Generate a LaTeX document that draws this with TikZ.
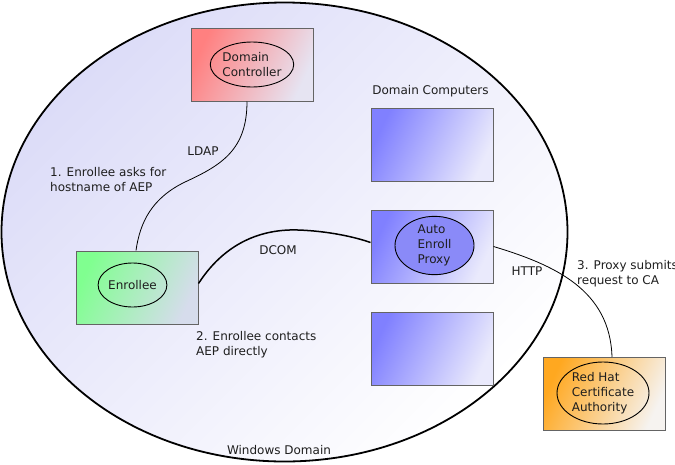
\documentclass[tikz,border=0pt]{standalone}
\usepackage{fontspec}
\setmainfont{DejaVu Sans}
\usetikzlibrary{shapes.geometric}
\definecolor{lav}{RGB}{220,220,248}
\definecolor{dcred}{RGB}{255,128,128}
\definecolor{dcpale}{RGB}{230,228,242}
\definecolor{engreen}{RGB}{128,255,144}
\definecolor{enpale}{RGB}{214,220,236}
\definecolor{pcblue}{RGB}{128,128,255}
\definecolor{pcpale}{RGB}{234,234,252}
\definecolor{aepfill}{RGB}{138,138,248}
\definecolor{caorange}{RGB}{255,168,32}
\definecolor{capale}{RGB}{246,243,240}
\definecolor{boxline}{RGB}{100,100,100}
\definecolor{txt}{RGB}{30,30,30}
\begin{document}
\begin{tikzpicture}[x=1pt,y=-1pt,
  every node/.style={font=\fontsize{12}{15}\selectfont, text=txt},
  hostbox/.style={draw=boxline, line width=1pt, minimum width=122pt, minimum height=73pt, inner sep=0pt},
  hostell/.style={draw=black, line width=0.9pt, ellipse, inner sep=0pt, align=left},
  lbl/.style={anchor=west, align=left, inner sep=0pt},
  conn/.style={draw=black, line width=0.8pt}]
\path[use as bounding box] (0,0) rectangle (675,464);
% domain
\node[ellipse, draw=black, line width=1.8pt, minimum width=566pt, minimum height=459pt,
  left color=lav, middle color=lav!75!white, right color=white, shading angle=45, inner sep=0pt] (domain) at (284.5,232) {};
\node (domlbl) at (279,450) {Windows Domain};
% boxes
\node[hostbox, left color=dcred, right color=dcpale, shading angle=65] (dc) at (252,64.5) {};
\node[hostell, minimum width=80pt, minimum height=45pt] (dce) at (252,64.5) {Domain\\Controller};
\node[hostbox, left color=engreen, right color=enpale, shading angle=65] (enr) at (137,287.5) {};
\node[hostell, minimum width=67pt, minimum height=44pt] (enre) at (132.5,285) {Enrollee};
\node (dclbl) at (430.5,91) {Domain Computers};
\node[hostbox, left color=pcblue, right color=pcpale, shading angle=65] (pc1) at (432,144.5) {};
\node[hostbox, left color=pcblue, right color=pcpale, shading angle=65] (aep) at (432,246.5) {};
\node[hostell, fill=aepfill, minimum width=79pt, minimum height=57pt] (aepe) at (434.5,245.5) {Auto\\Enroll\\Proxy};
\node[hostbox, left color=pcblue, right color=pcpale, shading angle=65] (pc3) at (432,348.5) {};
\node[hostbox, left color=caorange, right color=capale, shading angle=65] (ca) at (604,394) {};
\node[hostell, minimum width=92pt, minimum height=62pt] (cae) at (603,393) {Red Hat\\Certificate\\Authority};
% connectors
\draw[conn] ([xshift=-5pt]dc.south) .. controls +(0,48) and (222,165) .. (185,182)
  .. controls (152,198) and (140,222) .. ([xshift=-1pt]enr.north);
\draw[conn, line width=1.5pt] ([yshift=4pt]enr.east) .. controls (228,238) and (268,229) .. (298,230)
  .. controls (328,231) and (355,237) .. ([yshift=4pt]aep.west);
\draw[conn] (aep.east) .. controls (555,265) and (610,290) .. ([xshift=8pt]ca.north);
% labels
\node (ldap) at (203,151) {LDAP};
\node[lbl] (l1) at (50,180) {1. Enrollee asks for\\hostname of AEP};
\node (dcom) at (278,250) {DCOM};
\node[lbl] (l2) at (196,345) {2. Enrollee contacts\\AEP directly};
\node (http) at (527,271) {HTTP};
\node[lbl] (l3) at (577,274) {3. Proxy submits\\request to CA};
\end{tikzpicture}
\end{document}
